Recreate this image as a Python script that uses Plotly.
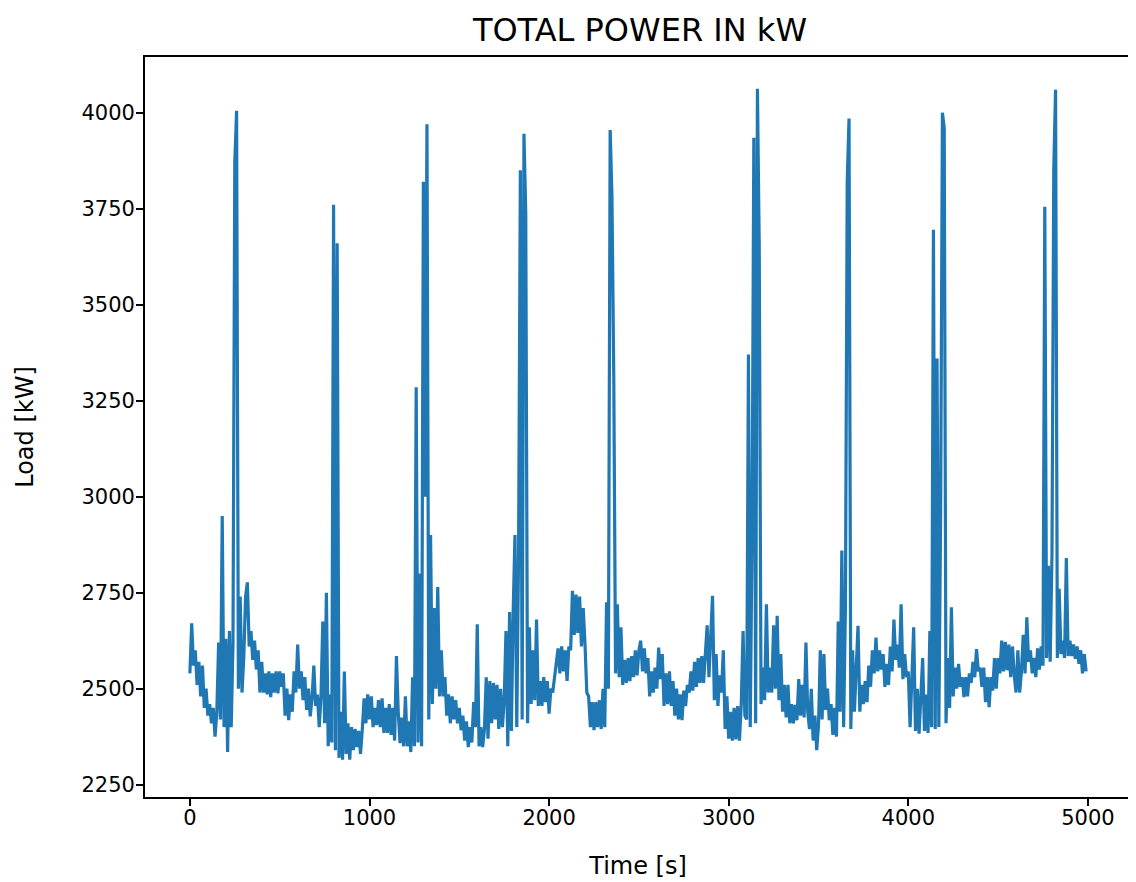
# Total power plot
import plotly.graph_objects as go

TITLE = "TOTAL POWER IN kW"
X_LABEL = "Time [s]"
Y_LABEL = "Load [kW]"

# sample every 10 s
time_s = list(range(0, 5000, 10))

load_kw = [
   2540, 2670, 2560, 2600, 2510, 2570, 2480, 2560, 2450, 2500,
   2430, 2460, 2410, 2450, 2375, 2440, 2620, 2420, 2950, 2400,
   2630, 2335, 2650, 2400, 2620, 3870, 4005, 2500, 2740, 2490,
   2580, 2740, 2777, 2610, 2650, 2575, 2625, 2550, 2600, 2490,
   2570, 2490, 2540, 2485, 2545, 2478, 2540, 2490, 2545, 2488,
   2545, 2505, 2540, 2430, 2500, 2418, 2485, 2440, 2545, 2490,
   2615, 2500, 2545, 2470, 2530, 2445, 2500, 2428, 2475, 2560,
   2455, 2485, 2400, 2480, 2675, 2410, 2750, 2350, 2485, 2360,
   3760, 2340, 3660, 2320, 2440, 2315, 2545, 2330, 2410, 2315,
   2400, 2340, 2395, 2348, 2390, 2330, 2395, 2475, 2410, 2485,
   2420, 2480, 2400, 2450, 2405, 2470, 2400, 2475, 2385, 2450,
   2385, 2460, 2380, 2450, 2365, 2585, 2440, 2358, 2425, 2350,
   2480, 2350, 2415, 2335, 2530, 2350, 3285, 2360, 2800, 2350,
   3820, 3000, 3970, 2420, 2900, 2460, 2710, 2500, 2765, 2480,
   2600, 2480, 2530, 2430, 2485, 2410, 2480, 2420, 2470, 2410,
   2450, 2392, 2430, 2365, 2415, 2348, 2400, 2360, 2465, 2400,
   2668, 2350, 2400, 2348, 2395, 2530, 2370, 2520, 2410, 2515,
   2420, 2510, 2395, 2500, 2400, 2470, 2650, 2350, 2700, 2390,
   2700, 2900, 2400, 2850, 3850, 2420, 3945, 3740, 2410, 2660,
   2460, 2600, 2470, 2680, 2455, 2520, 2455, 2530, 2465, 2520,
   2435, 2500, 2490, 2535, 2560, 2605, 2540, 2610, 2545, 2600,
   2520, 2610, 2600, 2755, 2640, 2745, 2645, 2740, 2610, 2710,
   2615, 2490, 2480, 2400, 2465, 2392, 2465, 2400, 2470, 2395,
   2500, 2400, 2725, 2500, 3955, 3780, 3320, 2540, 2720, 2530,
   2660, 2510, 2575, 2515, 2580, 2520, 2585, 2530, 2600, 2535,
   2600, 2625, 2545, 2605, 2540, 2580, 2480, 2545, 2490, 2555,
   2500, 2607, 2525, 2590, 2455, 2540, 2460, 2545, 2455, 2520,
   2430, 2500, 2420, 2485, 2418, 2495, 2455, 2510, 2490, 2545,
   2495, 2570, 2505, 2580, 2515, 2585, 2515, 2590, 2665, 2530,
   2655, 2742, 2470, 2590, 2455, 2535, 2490, 2600, 2395, 2480,
   2370, 2440, 2365, 2450, 2368, 2455, 2365, 2460, 2650, 2430,
   2420, 3370, 2400, 2900, 3935, 2410, 4062, 3650, 2460, 2555,
   2470, 2720, 2490, 2555, 2490, 2665, 2500, 2690, 2470, 2590,
   2440, 2510, 2425, 2510, 2410, 2460, 2410, 2458, 2418, 2525,
   2430, 2510, 2425, 2620, 2440, 2395, 2500, 2365, 2430, 2340,
   2405, 2600, 2420, 2590, 2445, 2500, 2418, 2460, 2380, 2450,
   2375, 2675, 2440, 2860, 2400, 2720, 3820, 3985, 2395, 2600,
   2440, 2580, 2664, 2440, 2510, 2460, 2520, 2465, 2560, 2505,
   2600, 2540, 2633, 2545, 2600, 2550, 2590, 2505, 2565, 2510,
   2610, 2545, 2680, 2575, 2615, 2555, 2720, 2525, 2590, 2530,
   2545, 2400, 2520, 2660, 2390, 2500, 2383, 2480, 2580, 2390,
   2485, 2385, 2650, 2400, 3695, 2395, 3360, 2400, 2950, 4000,
   3960, 2410, 2580, 2450, 2712, 2480, 2555, 2500, 2565, 2505,
   2530, 2478, 2530, 2480, 2540, 2515, 2570, 2530, 2603, 2545,
   2555, 2505, 2555, 2465, 2530, 2452, 2530, 2495, 2580, 2500,
   2580, 2540, 2625, 2545, 2622, 2548, 2615, 2530, 2610, 2535,
   2490, 2600, 2490, 2545, 2640, 2540, 2686, 2570, 2600, 2540,
   2580, 2530, 2605, 2550, 2610, 2560, 3755, 2580, 2820, 2570,
   2850, 3850, 4060, 2580, 2760, 2590, 2625, 2580, 2840, 2585,
   2625, 2585, 2615, 2578, 2610, 2565, 2600, 2540, 2590, 2545,
]

x_ticks = [0, 1000, 2000, 3000, 4000, 5000]
y_ticks = [2250, 2500, 2750, 3000, 3250, 3500, 3750, 4000]

FONT = "DejaVu Sans"

fig = go.Figure(data=[go.Scatter(x=time_s, y=load_kw, mode="lines",
                                 line=dict(color="#1f77b4", width=3.2))])

axis_style = dict(showgrid=False, zeroline=False, showline=True, mirror=True,
                  linecolor="black", linewidth=1.7, ticks="outside", ticklen=7,
                  tickwidth=1.7, tickcolor="black",
                  tickfont=dict(family=FONT, size=21, color="black"))

fig.update_xaxes(range=[-250, 5240], tickvals=x_ticks, ticklabelstandoff=-6,
                 title=dict(text=X_LABEL, font=dict(family=FONT, size=24, color="black"), standoff=28),
                 **axis_style)
fig.update_yaxes(range=[2218, 4145], tickvals=y_ticks, ticklabelstandoff=-3,
                 title=dict(text=Y_LABEL, font=dict(family=FONT, size=24, color="black"), standoff=41),
                 **axis_style)

# the page body adds 8px, so margins are a bit smaller
fig.update_layout(
   width=1136, height=882,
   margin=dict(l=137, r=11, t=49, b=93),
   paper_bgcolor="white", plot_bgcolor="white",
   showlegend=False,
   title=dict(text=TITLE, x=0.5563, xanchor="center", y=0.975, yanchor="middle",
              font=dict(family=FONT, size=32, color="black")),
)

fig.write_html("out.html")
